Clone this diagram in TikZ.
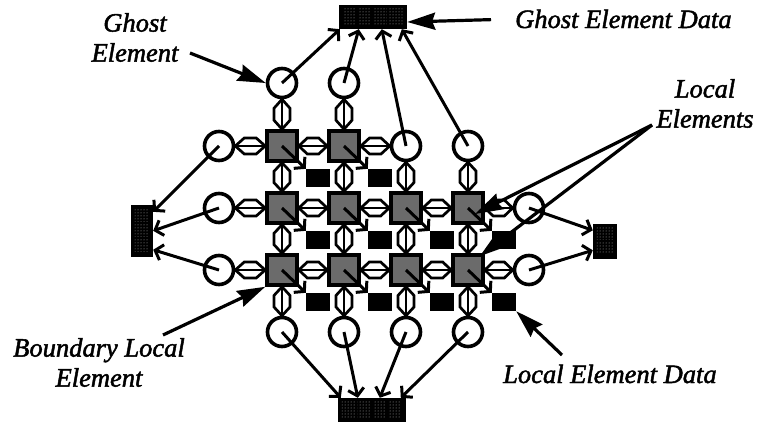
\documentclass[tikz,border=0pt]{standalone}
\usepackage{fontspec}
\setmainfont{Liberation Serif}
\usetikzlibrary{arrows.meta,calc,patterns}

\tikzset{
  lel/.style={draw, line width=3.6pt, fill=black!58, minimum size=30pt, inner sep=0pt},
  gel/.style={circle, draw, line width=3.6pt, fill=white, minimum size=29pt, inner sep=0pt},
  ldat/.style={fill=black, minimum width=24pt, minimum height=18pt, inner sep=0pt},
  gdat/.style={fill=black, inner sep=0pt},
  cell/.style={pattern=dots, pattern color=white!70!black},
  dlink/.style={line width=2.7pt, line join=miter},
  darr/.style={line width=3pt, -{Straight Barb[length=7pt,width=16pt]}},
  ptr/.style={line width=3.2pt, -{Stealth[length=28pt,width=17pt,inset=3pt]}},
  lbl/.style={font=\fontsize{26.5}{30}\selectfont\itshape\addfontfeatures{FakeBold=1.8},
              inner sep=0pt, align=center},
}

% two-way exchange link between two elements
\newcommand\xlink[2]{%
  \path (#1) -- (#2) coordinate[pos=0] (lkA) coordinate[pos=1] (lkB)
        coordinate[pos=0.3] (lkM) coordinate[pos=0.7] (lkN);
  \draw[dlink] (lkA) -- ($(lkM)!8pt!90:(lkB)$) -- ($(lkN)!8pt!-90:(lkA)$) -- (lkB)
        -- ($(lkN)!8pt!90:(lkA)$) -- ($(lkM)!8pt!-90:(lkB)$) -- cycle;
  \draw[dlink] (lkA) -- (lkB);
}

\begin{document}
\begin{tikzpicture}[x=1pt,y=-1pt]
\useasboundingbox (0,0) rectangle (758,423);

% local elements and their data
\foreach \c/\x in {1/282,2/344}{
  \node[lel] (s1\c) at (\x,146) {};
  \node[ldat] (d1\c) at (\x+36,178) {};
}
\foreach \r/\y in {2/208,3/270}{
  \foreach \c/\x in {1/282,2/344,3/406,4/468}{
    \node[lel] (s\r\c) at (\x,\y) {};
    \node[ldat] (d\r\c) at (\x+36,\y+32) {};
  }
}

% ghost elements
\node[gel] (gt1) at (282,83) {};
\node[gel] (gt2) at (344,83) {};
\node[gel] (gt3) at (406,146) {};
\node[gel] (gt4) at (468,146) {};
\node[gel] (gl1) at (219,146) {};
\node[gel] (gl2) at (219,208) {};
\node[gel] (gl3) at (219,270) {};
\node[gel] (gr2) at (529,208) {};
\node[gel] (gr3) at (529,270) {};
\foreach \c/\x in {1/282,2/344,3/406,4/468}{
  \node[gel] (gb\c) at (\x,332) {};
}

% ghost element data blocks
\node[gdat, minimum width=68pt, minimum height=24pt] (gtop) at (373,17) {};
\node[gdat, minimum width=68pt, minimum height=24pt] (gbot) at (372,410) {};
\node[gdat, minimum width=22pt, minimum height=52pt] (gleft) at (142,231) {};
\node[gdat, minimum width=24pt, minimum height=35pt] (gright) at (605,241) {};
\foreach \i in {0,...,3}{
  \fill[cell] ($(gtop.north west)+(4+15.5*\i,4)$) rectangle +(13,16);
  \fill[cell] ($(gbot.north west)+(4+15.5*\i,4)$) rectangle +(13,16);
}
\foreach \i in {0,1,2}{
  \fill[cell] ($(gleft.north west)+(4,4+15*\i)$) rectangle +(14,13);
}
\foreach \i in {0,1}{
  \fill[cell] ($(gright.north west)+(4,4+14*\i)$) rectangle +(16,12);
}

% exchange links
\xlink{gt1}{s11} \xlink{gt2}{s12}
\xlink{gl1}{s11} \xlink{gl2}{s21} \xlink{gl3}{s31}
\xlink{s11}{s12} \xlink{s12}{gt3}
\xlink{gt3}{s23} \xlink{gt4}{s24}
\xlink{s21}{s22} \xlink{s22}{s23} \xlink{s23}{s24} \xlink{s24}{gr2}
\xlink{s31}{s32} \xlink{s32}{s33} \xlink{s33}{s34} \xlink{s34}{gr3}
\xlink{s11}{s21} \xlink{s21}{s31} \xlink{s12}{s22} \xlink{s22}{s32}
\xlink{s23}{s33} \xlink{s24}{s34}
\xlink{s31}{gb1} \xlink{s32}{gb2} \xlink{s33}{gb3} \xlink{s34}{gb4}

% element -> data
\draw[darr] (s11.center) -- (d11.north west);
\draw[darr] (s12.center) -- (d12.north west);
\foreach \r in {2,3}{
  \foreach \c in {1,2,3,4}{
    \draw[darr] (s\r\c.center) -- (d\r\c.north west);
  }
}

% ghost elements -> ghost data
\coordinate (tt1) at ($(gtop.south west)+(1,0)$);
\coordinate (tt2) at ($(gtop.south west)+(20,0)$);
\coordinate (tt3) at ($(gtop.south west)+(43,0)$);
\coordinate (tt4) at ($(gtop.south west)+(63,0)$);
\draw[darr] (gt1.center) -- (tt1);
\draw[darr] (gt2.center) -- (tt2);
\draw[darr] (gt3.center) -- (tt3);
\draw[darr] (gt4.center) -- (tt4);
\coordinate (bt1) at ($(gbot.north west)+(3,0)$);
\coordinate (bt2) at ($(gbot.north west)+(20,0)$);
\coordinate (bt3) at ($(gbot.north west)+(42,0)$);
\coordinate (bt4) at ($(gbot.north west)+(63,0)$);
\foreach \c in {1,2,3,4}{ \draw[darr] (gb\c.center) -- (bt\c); }
\coordinate (lt1) at ($(gleft.north east)+(0,7)$);
\coordinate (lt2) at ($(gleft.north east)+(0,26)$);
\coordinate (lt3) at ($(gleft.north east)+(0,45)$);
\foreach \r in {1,2,3}{ \draw[darr] (gl\r.center) -- (lt\r); }
\coordinate (rt2) at ($(gright.north west)+(0,7)$);
\coordinate (rt3) at ($(gright.north west)+(0,27)$);
\foreach \r in {2,3}{ \draw[darr] (gr\r.center) -- (rt\r); }

% labels
\node[lbl, anchor=north] (lblge) at (135,13) {Ghost\\Element};
\node[lbl, anchor=base west] (lblged) at (515,28) {Ghost Element Data};
\node[lbl, anchor=south] (lblle) at (705,128) {Local\\Elements};
\node[lbl, anchor=north] (lblble) at (99,338) {Boundary Local\\Element};
\node[lbl, anchor=base west] (lbled) at (503,383) {Local Element Data};

% pointers
\coordinate (ge-tail) at (190,53);
\draw[ptr] (ge-tail) -- (gt1.west);
\draw[ptr, shorten <=24pt] (lblged.west) -- ([yshift=-5pt]gtop.east);
\coordinate (le-tail) at (652,125);
\draw[ptr] (le-tail) -- ($(s24.center)+(7,6)$);
\draw[ptr] (le-tail) -- ($(s34.north east)+(-5,3)$);
\coordinate (ble-tail) at (163,335);
\draw[ptr] (ble-tail) -- (s31.south west);
\coordinate (led-tail) at (562,355);
\draw[ptr] (led-tail) -- (d34.south east);
\end{tikzpicture}
\end{document}
